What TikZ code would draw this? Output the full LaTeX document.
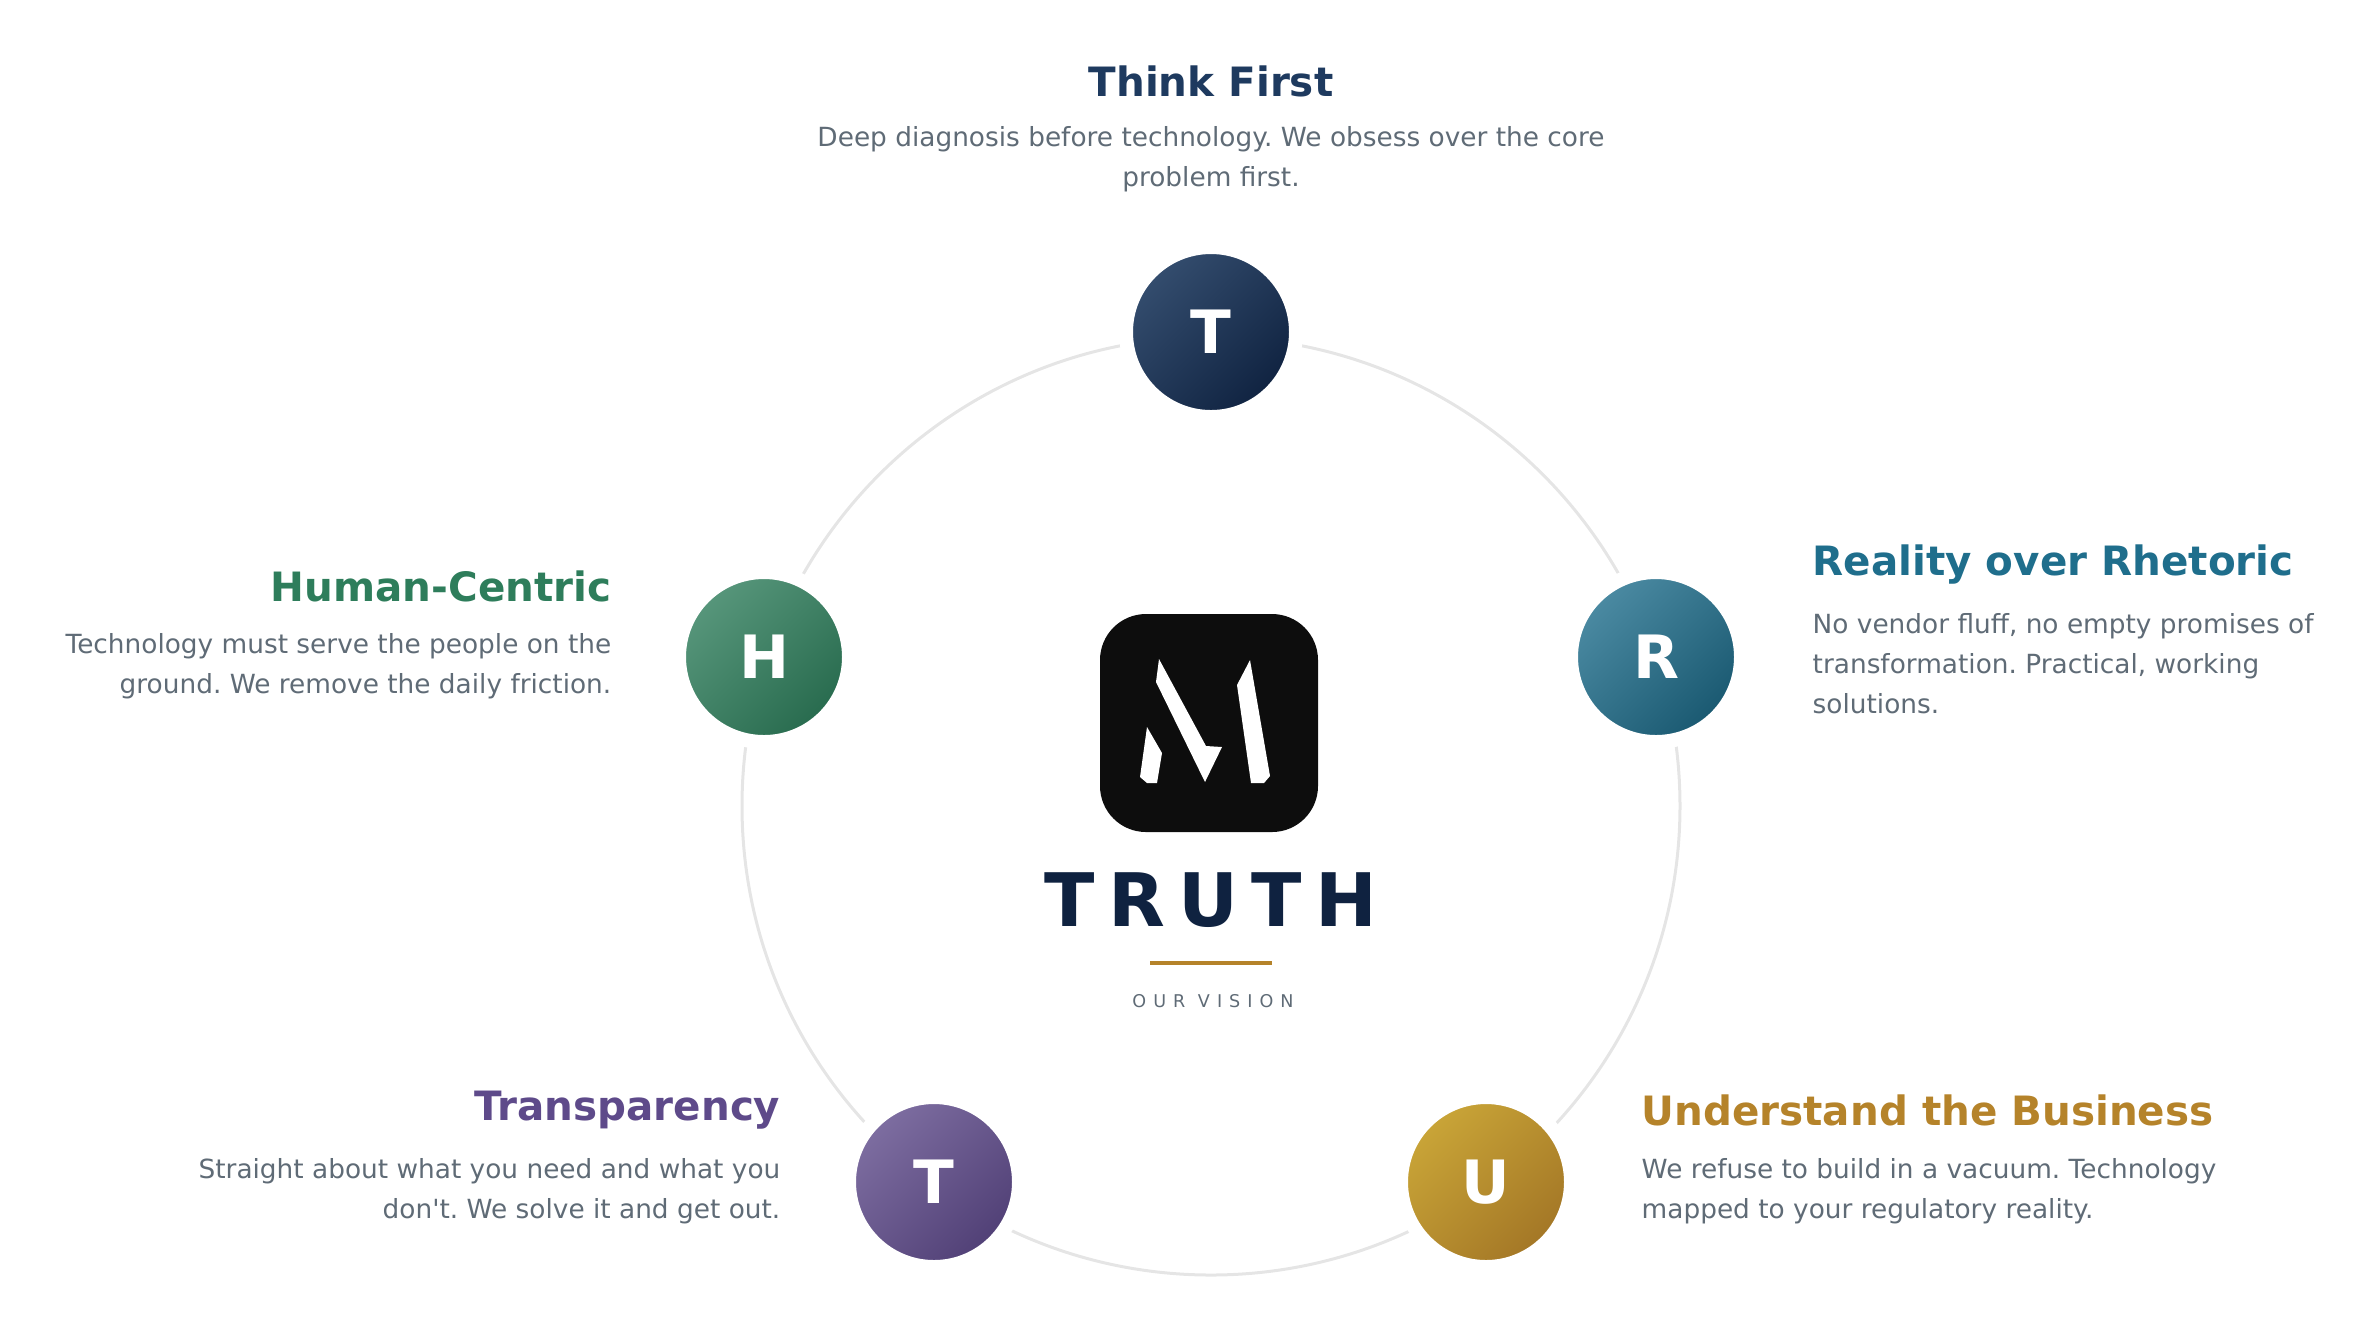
\documentclass[tikz,border=0pt]{standalone}
\usepackage{fontspec}
\setmainfont{DejaVu Sans}
\usetikzlibrary{positioning}
\definecolor{navy}{HTML}{1E3A5F}
\definecolor{navyd}{HTML}{0F2240}
\definecolor{greenT}{HTML}{2E7D5B}
\definecolor{tealT}{HTML}{1F6E8C}
\definecolor{purpleT}{HTML}{5E4A8A}
\definecolor{goldT}{HTML}{B5832A}
\definecolor{grayT}{HTML}{5F6B76}
\tikzset{
  pillar/.style={circle, minimum size=170*0.1mm, inner sep=0pt, draw=white, line width=1.4mm,
    text=white, font=\fontsize{17}{17}\selectfont\bfseries},
  tint/.style 2 args={top color=#1, bottom color=#2, shading angle=45},
  heading/.style={font=\fontsize{11.5}{13}\selectfont\bfseries, inner sep=0pt},
  blurb/.style={font=\fontsize{7.5}{11.4}\selectfont\frenchspacing, text=grayT, inner sep=0pt},
}
\begin{document}
\begin{tikzpicture}[x=0.1mm,y=-0.1mm]
\useasboundingbox (0,0) rectangle (2373,1331);
\begin{scope}[shift={(-6,0)}]
% ring
\draw[black!10, line width=0.3mm] (1217,806) circle[radius=469];
% logo
\fill[black!95, rounded corners=4.6mm] (1106,614) rectangle (1324,832);
\fill[white] (1153,727) -- (1168,753) -- (1163,783) -- (1153,783) -- (1146,777) -- cycle;
\fill[white] (1165,659) -- (1162,682) -- (1211,782) -- (1228,747) -- (1212,746) -- cycle;
\fill[white] (1256,660) -- (1243,685) -- (1257,783) -- (1270,783) -- (1276,776) -- cycle;
\node[font=\fontsize{21}{21}\selectfont\bfseries\addfontfeature{LetterSpace=18}, text=navyd] (brand) at (1217,900) {TRUTH};
\draw[goldT, line width=0.35mm] (1156,963) -- (1278,963);
\node[font=\fontsize{5}{5}\selectfont\addfontfeature{LetterSpace=40}, text=grayT] (vision) at (1219,1001) {OUR VISION};
% pillars
\node[pillar, tint={navy!90!white}{navyd}] (think) at (1217,332) {T};
\node[pillar, tint={greenT!80!white}{greenT!85!black}] (human) at (770,657) {H};
\node[pillar, tint={tealT!80!white}{tealT!80!black}] (reality) at (1662,657) {R};
\node[pillar, tint={purpleT!80!white}{purpleT!85!black}] (transp) at (940,1182) {T};
\node[pillar, tint={goldT!80!yellow!90!white}{goldT!90!black}] (underst) at (1492,1182) {U};
% texts
\node[heading, text=navy] (thinkH) at (1217,81) {Think First};
\node[blurb, align=center, anchor=north] (thinkB) at (1217,126) {Deep diagnosis before technology. We obsess over the core\\problem first.};
\node[heading, text=greenT, anchor=east] (humanH) at (618,586) {Human-Centric};
\node[blurb, align=right, anchor=north east] (humanB) at (618,633) {Technology must serve the people on the\\ground. We remove the daily friction.};
\node[heading, text=tealT, anchor=west] (realityH) at (1818,564) {Reality over Rhetoric};
\node[blurb, align=left, anchor=north west] (realityB) at (1818,613) {No vendor fluff, no empty promises of\\transformation. Practical, working\\solutions.};
\node[heading, text=purpleT, anchor=east] (transpH) at (787,1110) {Transparency};
\node[blurb, align=right, anchor=north east] (transpB) at (787,1158) {Straight about what you need and what you\\don\textquotesingle t. We solve it and get out.};
\node[heading, text=goldT, anchor=west] (understH) at (1647,1110) {Understand the Business};
\node[blurb, align=left, anchor=north west] (understB) at (1647,1158) {We refuse to build in a vacuum. Technology\\mapped to your regulatory reality.};
\end{scope}
\end{tikzpicture}
\end{document}
